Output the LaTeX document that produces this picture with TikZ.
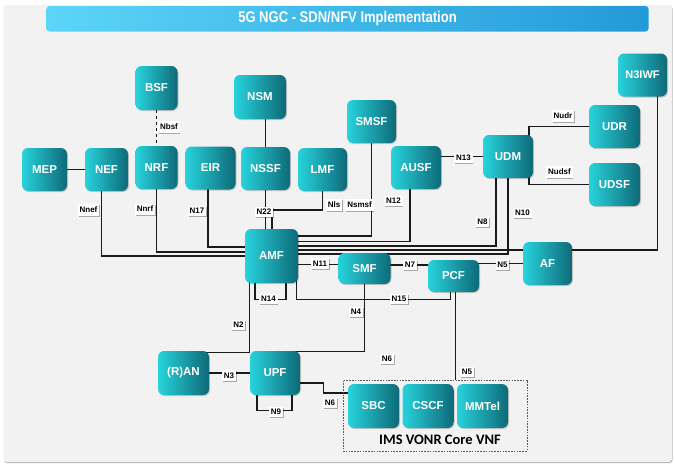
\documentclass[tikz,border=0pt]{standalone}
\usepackage{fontspec}
\setmainfont{Liberation Sans}
\newfontfamily\calibfont{Carlito}
\usetikzlibrary{shadows,calc}
\pgfdeclarelayer{bottom}
\pgfdeclarelayer{links}
\pgfsetlayers{bottom,links,main}
\definecolor{panelgray}{HTML}{F2F2F2}
\definecolor{titleL}{HTML}{5BD5F8}
\definecolor{titleR}{HTML}{239AD8}
\definecolor{nfL}{HTML}{27D3DC}
\definecolor{nfR}{HTML}{0E6A78}
\definecolor{linkc}{HTML}{1A1A1A}
\tikzset{
  nf/.style={rounded corners=6pt, left color=nfL, right color=nfR, draw=none, text=white,
    font=\fontsize{11.5}{13}\selectfont\bfseries, inner sep=0pt,
    general shadow={fill=black, opacity=0.18, shadow xshift=1pt, shadow yshift=-1pt}},
  lbl/.style={fill=white, text=black, font=\fontsize{8}{9.5}\selectfont\bfseries,
    inner xsep=1.8pt, inner ysep=2.6pt,
    general shadow={fill=black, opacity=0.3, shadow xshift=0.8pt, shadow yshift=-1pt}},
  link/.style={draw=linkc, line width=1.15pt},
  thicklink/.style={draw=linkc, line width=1.9pt},
}
\begin{document}
\begin{tikzpicture}[x=1pt, y=-1pt]
\useasboundingbox (0,0) rectangle (675,464);
\begin{pgfonlayer}{bottom}
  \fill[black!30, rounded corners=3pt] (4,6) rectangle (672.5,463);
  \fill[panelgray, rounded corners=3pt] (3.5,5) rectangle (672,462);
\end{pgfonlayer}
\node[rounded corners=3pt, left color=titleL, right color=titleR, minimum width=602pt,
  minimum height=25.5pt, inner sep=0pt, text=white] (title) at (347.5,18.75)
  {\scalebox{0.84}[1]{\fontsize{15.5}{17}\selectfont\bfseries 5G NGC - SDN/NFV Implementation}};

% network functions
\node[nf, minimum width=42pt, minimum height=44pt] (bsf) at (156.5,88) {BSF};
\node[nf, minimum width=52pt, minimum height=44pt] (nsm) at (260,97) {NSM};
\node[nf, minimum width=49pt, minimum height=43pt, font=\fontsize{11}{13}\selectfont\bfseries] (n3iwf) at (642.5,75) {N3IWF};
\node[nf, minimum width=49pt, minimum height=43pt] (smsf) at (371.5,121.5) {SMSF};
\node[nf, minimum width=51pt, minimum height=43pt] (udr) at (614.5,126.5) {UDR};
\node[nf, minimum width=51pt, minimum height=43pt] (udsf) at (614.5,184.5) {UDSF};
\node[nf, minimum width=50pt, minimum height=43pt] (udm) at (508,156.5) {UDM};
\node[nf, minimum width=50pt, minimum height=43pt] (ausf) at (416,167.5) {AUSF};
\node[nf, minimum width=45pt, minimum height=43pt] (mep) at (44.5,169.5) {MEP};
\node[nf, minimum width=43pt, minimum height=43pt] (nef) at (106.5,169.5) {NEF};
\node[nf, minimum width=42pt, minimum height=43pt] (nrf) at (156.5,167.5) {NRF};
\node[nf, minimum width=50pt, minimum height=43pt] (eir) at (210.5,168) {EIR};
\node[nf, minimum width=49pt, minimum height=43pt] (nssf) at (265.5,168.5) {NSSF};
\node[nf, minimum width=49pt, minimum height=43pt] (lmf) at (322.5,169.5) {LMF};
\node[nf, minimum width=53pt, minimum height=54pt] (amf) at (271.5,256) {AMF};
\node[nf, minimum width=52pt, minimum height=31pt] (smf) at (364.5,268.5) {SMF};
\node[nf, minimum width=51pt, minimum height=32pt] (pcf) at (453.5,276) {PCF};
\node[nf, minimum width=49pt, minimum height=43pt] (af) at (547.5,263.5) {AF};
\node[nf, minimum width=51pt, minimum height=44pt] (ran) at (183.5,373) {(R)AN};
\node[nf, minimum width=50pt, minimum height=44pt] (upf) at (275,373) {UPF};
\node[nf, minimum width=51pt, minimum height=44pt] (sbc) at (373.5,406) {SBC};
\node[nf, minimum width=51pt, minimum height=44pt] (cscf) at (428,406) {CSCF};
\node[nf, minimum width=51pt, minimum height=44pt] (mmtel) at (482.5,406) {MMTel};

% IMS box
\node[draw=black!65, dash pattern=on 1.6pt off 1.2pt, line width=0.7pt, minimum width=184pt,
  minimum height=71pt, inner sep=0pt] (ims) at (435,415.5) {};
\node[font=\calibfont\bfseries\fontsize{14.5}{16}\selectfont, inner sep=0pt] (imslabel) at (440,440) {IMS VONR Core VNF};

\coordinate (lmfbend) at (272,210);

\begin{pgfonlayer}{links}
  \draw[thicklink] (mep) -- (nef);
  \draw[link, line width=1.4pt, dashed] (bsf) -- (nrf);
  \draw[link] (nssf.north |- nsm.center) -- (nssf.center);
  % left side of AMF
  \draw[link] ([xshift=-5pt]nef.center) |- (amf.center);
  \draw[link] (nrf.center) |- ([yshift=4pt]amf.center);
  \draw[link] ([xshift=-2.5pt]eir.center) |- ([yshift=9pt]amf.center);
  % top of AMF
  \draw[link] (nssf.center) -- (nssf.center |- amf.center);
  \draw[link] (lmf.center) |- (lmfbend) -- (lmfbend |- amf.center);
  % right side of AMF
  \draw[link] (smsf.center) |- ([yshift=20pt]amf.center);
  \draw[link] ([xshift=-6pt]ausf.center) |- ([yshift=14.5pt]amf.center);
  \draw[link] ([xshift=-12pt]udm.center) |- ([yshift=10pt]amf.center);
  \draw[link] ([xshift=15pt]n3iwf.center) |- ([yshift=6pt]amf.center);
  \draw[link] (udm.center) |- ([yshift=2pt]amf.center);
  % UDM
  \draw[thicklink] (ausf.center |- udm.center) -- (udm.center);
  \draw[link] ([xshift=21pt]udm.center) |- (udr.center);
  \draw[link] ([xshift=21pt]udm.center) |- (udsf.center);
  % AMF / SMF / PCF / AF
  \draw[link] ([yshift=4pt]smf.center) -- ([yshift=4pt]smf.center -| amf.center);
  \draw[link] ([yshift=3.5pt]smf.center) -- ([yshift=3.5pt]smf.center -| pcf.center);
  \draw[link] (af.center) -- (af.center -| pcf.center);
  \draw[link] ([xshift=-16.5pt]amf.center) |- ($(amf.south)+(0,16)$) -| ([xshift=14.5pt]amf.center);
  \draw[link] ([xshift=25pt]amf.center) -- ([xshift=25pt]amf.south) -- ++(0,16) -| ([xshift=-3pt]pcf.center);
  % access / user plane
  \draw[link] ([xshift=-22pt]amf.center) |- ([xshift=-6pt,yshift=-1.5pt]ran.north east);
  \draw[link] (smf.center) |- ([xshift=-6pt,yshift=-1pt]upf.north east);
  \draw[link] (ran) -- (upf);
  \draw[link] ([xshift=-18pt]upf.center) |- ($(upf.south)+(0,15)$) -| ([xshift=17pt]upf.center);
  \draw[link] ([yshift=-10pt]upf.center) -- ([yshift=-10pt]upf.east) -- ++(23,0) |- ([yshift=13pt]sbc.center);
  \draw[link] ([xshift=2pt]pcf.center) -- ([xshift=2pt]pcf.center |- ims.north);
\end{pgfonlayer}

% interface labels
\node[lbl] (l-nbsf) at (169,127) {Nbsf};
\node[lbl] (l-nnef) at (88.5,210) {Nnef};
\node[lbl] (l-nnrf) at (145,209) {Nnrf};
\node[lbl] (l-n17) at (197,211) {N17};
\node[lbl] (l-n22) at (264,212) {N22};
\node[lbl] (l-nls) at (334,205) {Nls};
\node[lbl] (l-nsmsf) at (359.5,205) {Nsmsf};
\node[lbl] (l-n12) at (393.5,201) {N12};
\node[lbl] (l-n13) at (463.5,158) {N13};
\node[lbl] (l-nudr) at (563,116) {Nudr};
\node[lbl] (l-nudsf) at (559.5,172) {Nudsf};
\node[lbl] (l-n8) at (482.5,222) {N8};
\node[lbl] (l-n10) at (522.5,213) {N10};
\node[lbl] (l-n11) at (320,263.5) {N11};
\node[lbl] (l-n14) at (268.5,299) {N14};
\node[lbl] (l-n15) at (399,299) {N15};
\node[lbl] (l-n4) at (356,312) {N4};
\node[lbl] (l-n2) at (238.5,325) {N2};
\node[lbl] (l-n7) at (410,265) {N7};
\node[lbl] (l-n5a) at (502.5,264.5) {N5};
\node[lbl] (l-n3) at (229,375.5) {N3};
\node[lbl] (l-n9) at (276,412) {N9};
\node[lbl] (l-n6a) at (330,403) {N6};
\node[lbl] (l-n6b) at (387,359) {N6};
\node[lbl] (l-n5b) at (467,372) {N5};
\end{tikzpicture}
\end{document}
